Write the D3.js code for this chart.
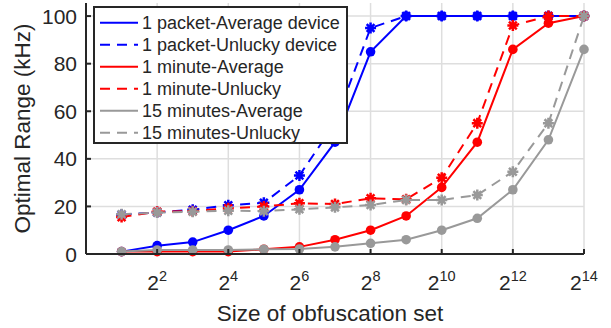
<!DOCTYPE html>
<html>
<head>
<meta charset="utf-8">
<script src="https://cdn.jsdelivr.net/npm/d3@7"></script>
<style>
  body { margin: 0; background: #fff; }
  text { font-family: "Liberation Sans", Arial, sans-serif; fill: #262626; }
</style>
</head>
<body>
<div id="chart"></div>
<script>
// obfuscation set sizes (2^1 .. 2^14)
var sizes = [2, 4, 8, 16, 32, 64, 128, 256, 512, 1024, 2048, 4096, 8192, 16384];
var xTickExp = [2, 4, 6, 8, 10, 12, 14];
var yTicks = [0, 20, 40, 60, 80, 100];

// optimal range (kHz)
var packetAvg      = [1, 3.5, 5, 10, 16, 27, 47, 85, 100, 100, 100, 100, 100, 100];
var packetUnlucky  = [16.5, 17.5, 18.6, 20.5, 21.5, 33, 55, 95, 100, 100, 100, 100, 100, 100];
var minuteAvg      = [1, 1, 1, 1, 2, 3, 6, 10, 16, 28, 47, 86, 97, 100];
var minuteUnlucky  = [15.5, 17.8, 18, 19.2, 20, 21.3, 21, 23.4, 23, 32, 55, 96, 100, 100];
var quarterAvg     = [1, 1.7, 1.7, 1.7, 2, 2.1, 3, 4.5, 6, 10, 15, 27, 48, 86];
var quarterUnlucky = [16.7, 17.4, 17.8, 18.2, 18, 18.8, 19.6, 20.6, 22.7, 22.7, 24.8, 34.6, 55, 100];

var series = [
  {name: "1 packet-Average device", values: packetAvg, color: "#0000ff", dash: false},
  {name: "1 packet-Unlucky device", values: packetUnlucky, color: "#0000ff", dash: true},
  {name: "1 minute-Average", values: minuteAvg, color: "#ff0000", dash: false},
  {name: "1 minute-Unlucky", values: minuteUnlucky, color: "#ff0000", dash: true},
  {name: "15 minutes-Average", values: quarterAvg, color: "#999999", dash: false},
  {name: "15 minutes-Unlucky", values: quarterUnlucky, color: "#999999", dash: true}
];

var W = 611, H = 328;
var plot = {left: 86, right: 584, top: 3, bottom: 254};
var axisColor = "#262626";

var svg = d3.select("#chart").append("svg")
  .attr("width", W)
  .attr("height", H);

var x = d3.scaleLog().base(2).domain([1, 16384]).range([plot.left, plot.right]);
var y = d3.scaleLinear().domain([0, 105.5]).range([plot.bottom, plot.top]);

// grid
var grid = svg.append("g").attr("stroke", "#dedede").attr("stroke-width", 1.5);
grid.selectAll(".vg")
  .data(xTickExp)
  .enter().append("line")
    .attr("x1", function(d) { return x(Math.pow(2, d)); })
    .attr("x2", function(d) { return x(Math.pow(2, d)); })
    .attr("y1", plot.top).attr("y2", plot.bottom);
grid.selectAll(".hg")
  .data(yTicks.slice(1))
  .enter().append("line")
    .attr("x1", plot.left).attr("x2", plot.right)
    .attr("y1", function(d) { return y(d); })
    .attr("y2", function(d) { return y(d); });

// lines + markers
var line = d3.line()
  .x(function(d, i) { return x(sizes[i]); })
  .y(function(d) { return y(d); });

function asterisk(cx, cy, s) {
  var d = s * 0.707;
  return "M" + (cx - s) + "," + cy + "L" + (cx + s) + "," + cy +
         "M" + cx + "," + (cy - s) + "L" + cx + "," + (cy + s) +
         "M" + (cx - d) + "," + (cy - d) + "L" + (cx + d) + "," + (cy + d) +
         "M" + (cx - d) + "," + (cy + d) + "L" + (cx + d) + "," + (cy - d);
}

series.forEach(function(s) {
  var g = svg.append("g");
  g.append("path")
    .attr("d", line(s.values))
    .attr("fill", "none")
    .attr("stroke", s.color)
    .attr("stroke-width", 2)
    .attr("stroke-dasharray", s.dash ? "10,7" : null);
  if (s.dash) {
    g.selectAll(".m")
      .data(s.values)
      .enter().append("path")
        .attr("d", function(d, i) { return asterisk(x(sizes[i]), y(d), 5.5); })
        .attr("stroke", s.color)
        .attr("stroke-width", 2.5);
  } else {
    g.selectAll(".m")
      .data(s.values)
      .enter().append("circle")
        .attr("cx", function(d, i) { return x(sizes[i]); })
        .attr("cy", function(d) { return y(d); })
        .attr("r", 4.8)
        .attr("fill", s.color);
  }
});

// axes
var ax = svg.append("g").attr("stroke", axisColor).attr("stroke-width", 2);
ax.append("line").attr("x1", plot.left).attr("x2", plot.right).attr("y1", plot.bottom).attr("y2", plot.bottom);
ax.append("line").attr("x1", plot.left).attr("x2", plot.left).attr("y1", plot.bottom).attr("y2", plot.top);
ax.selectAll(".xt")
  .data(xTickExp)
  .enter().append("line")
    .attr("x1", function(d) { return x(Math.pow(2, d)); })
    .attr("x2", function(d) { return x(Math.pow(2, d)); })
    .attr("y1", plot.bottom).attr("y2", plot.bottom - 5);
ax.selectAll(".yt")
  .data(yTicks)
  .enter().append("line")
    .attr("x1", plot.left).attr("x2", plot.left + 5)
    .attr("y1", function(d) { return y(d); })
    .attr("y2", function(d) { return y(d); });

// tick labels
svg.selectAll(".yl")
  .data(yTicks)
  .enter().append("text")
    .attr("x", 77)
    .attr("y", function(d) { return y(d) + 7.5; })
    .attr("text-anchor", "end")
    .attr("font-size", 21)
    .text(function(d) { return d; });

var xl = svg.selectAll(".xl")
  .data(xTickExp)
  .enter().append("text")
    .attr("x", function(d) { return x(Math.pow(2, d)); })
    .attr("y", 290)
    .attr("text-anchor", "middle")
    .attr("font-size", 21);
xl.append("tspan").text("2");
xl.append("tspan")
  .attr("dy", -9)
  .attr("font-size", 14.5)
  .text(function(d) { return d; });

// axis labels
svg.append("text")
  .attr("x", (plot.left + plot.right) / 2 - 5)
  .attr("y", 321)
  .attr("text-anchor", "middle")
  .attr("font-size", 22.5)
  .text("Size of obfuscation set");

svg.append("text")
  .attr("transform", "translate(30," + ((plot.top + plot.bottom) / 2) + ") rotate(-90)")
  .attr("text-anchor", "middle")
  .attr("font-size", 22.5)
  .text("Optimal Range (kHz)");

// legend
var lg = svg.append("g").attr("transform", "translate(94,7)");
lg.append("rect")
  .attr("width", 253)
  .attr("height", 136)
  .attr("fill", "#fff")
  .attr("stroke", axisColor)
  .attr("stroke-width", 2);
var items = lg.selectAll(".li")
  .data(series)
  .enter().append("g")
    .attr("transform", function(d, i) { return "translate(0," + (15.7 + i * 22) + ")"; });
items.append("line")
  .attr("x1", 6).attr("x2", 44)
  .attr("stroke", function(d) { return d.color; })
  .attr("stroke-width", 2)
  .attr("stroke-dasharray", function(d) { return d.dash ? "10,7" : null; });
items.append("text")
  .attr("x", 48)
  .attr("y", 6.3)
  .attr("font-size", 18)
  .text(function(d) { return d.name; });
</script>
</body>
</html>
